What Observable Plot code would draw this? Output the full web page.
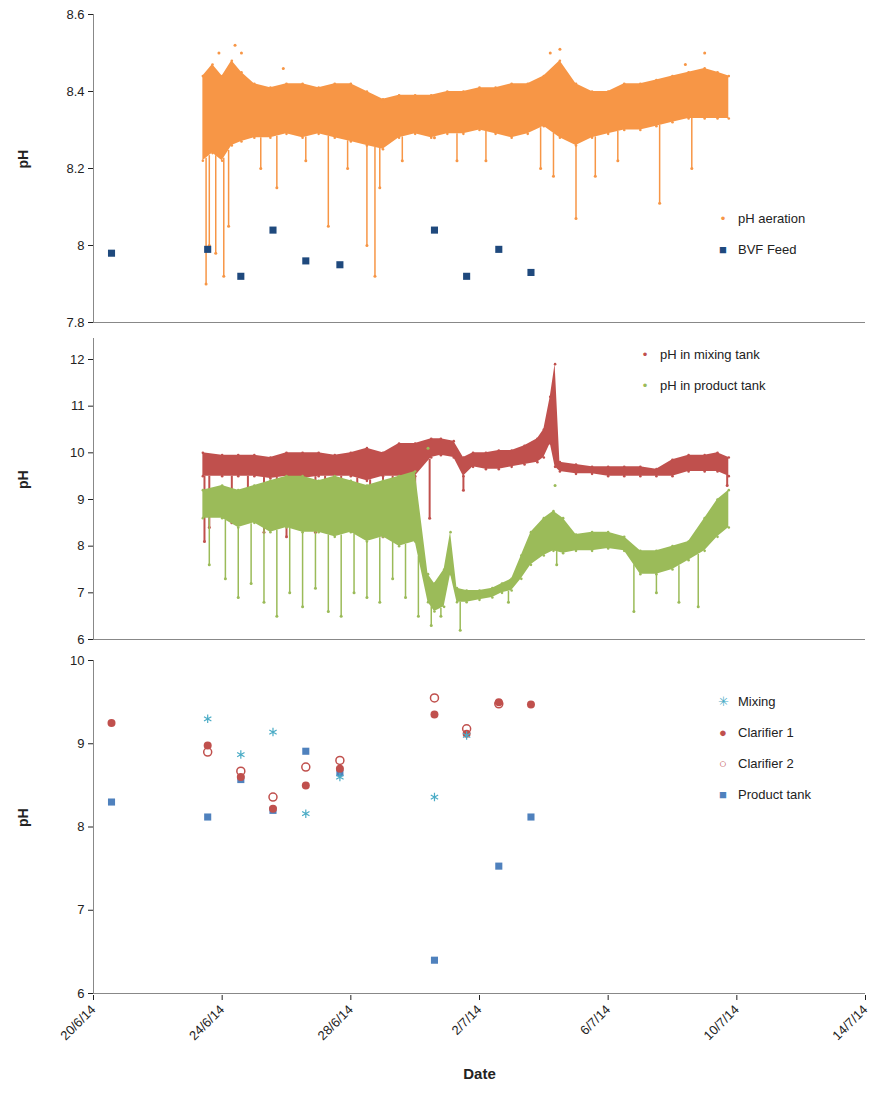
<!DOCTYPE html>
<html><head><meta charset="utf-8">
<script src="https://cdn.jsdelivr.net/npm/d3@7"></script>
<script src="https://cdn.jsdelivr.net/npm/@observablehq/plot@0.6"></script>
<style>
body{margin:0;background:#fff;font-family:Arial,"Liberation Sans",sans-serif}
#wrap{position:relative;width:877px}
.lg{position:absolute;font-size:13px;color:#222;line-height:31px}
.lg span.m{display:inline-block;width:14px;text-align:center;margin-right:8px}
</style></head><body>
<div id="wrap"></div>
<script>
// x is days after 20/6/14
const dateTicks=[0,4,8,12,16,20,24];
const dateLabels=["20/6/14","24/6/14","28/6/14","2/7/14","6/7/14","10/7/14","14/7/14"];
const sampleDays=[0.56,3.55,4.58,5.58,6.6,7.66,10.6,11.6,12.6,13.6];
const bvfFeed=[7.98,7.99,7.92,8.04,7.96,7.95,8.04,7.92,7.99,7.93];

// aeration core band
const aerT =[3.4,3.7,4.0,4.3,4.6,5.0,5.5,6.0,6.5,7.0,7.5,8.0,8.5,9.0,9.5,10.0,10.5,11.0,11.5,12.0,12.5,13.0,13.5,14.0,14.5,15.0,15.5,16.0,16.5,17.0,17.5,18.0,18.5,19.0,19.4,19.75];
const aerLo=[8.22,8.24,8.22,8.26,8.27,8.28,8.28,8.29,8.28,8.29,8.28,8.27,8.26,8.25,8.28,8.29,8.28,8.29,8.29,8.30,8.29,8.28,8.29,8.31,8.28,8.26,8.28,8.29,8.30,8.30,8.31,8.32,8.33,8.33,8.33,8.33];
const aerHi=[8.44,8.47,8.44,8.48,8.45,8.42,8.41,8.42,8.42,8.41,8.42,8.42,8.40,8.38,8.39,8.39,8.39,8.40,8.40,8.41,8.41,8.42,8.42,8.44,8.48,8.42,8.40,8.40,8.42,8.42,8.43,8.44,8.45,8.46,8.45,8.44];
const aerDipT=[3.5,3.6,3.8,4.05,4.2,5.2,5.7,6.6,7.3,7.9,8.5,8.75,8.9,9.6,10.6,11.3,12.2,13.9,14.3,15.0,15.6,16.3,17.6,18.6];
const aerDipV=[7.90,8.00,7.98,7.92,8.05,8.20,8.15,8.22,8.05,8.20,8.00,7.92,8.15,8.22,8.28,8.22,8.22,8.20,8.18,8.07,8.18,8.22,8.11,8.20];
const aerSpkT=[3.9,4.4,4.6,5.9,14.2,14.5,19.0,18.4];
const aerSpkV=[8.50,8.52,8.50,8.46,8.50,8.51,8.50,8.47];

// mixing tank band
const mixT =[3.4,4.0,4.5,5.0,5.5,6.0,6.5,7.0,7.5,8.0,8.5,9.0,9.5,10.0,10.5,10.8,11.2,11.5,11.8,12.2,12.6,13.0,13.4,13.8,14.0,14.2,14.35,14.5,15.0,15.5,16.0,16.5,17.0,17.5,18.0,18.5,19.0,19.4,19.75];
const mixLo=[9.5,9.5,9.5,9.5,9.45,9.5,9.45,9.5,9.5,9.5,9.4,9.5,9.5,9.5,9.9,9.95,9.9,9.5,9.7,9.65,9.65,9.7,9.75,9.8,9.9,10.2,9.7,9.6,9.55,9.55,9.5,9.5,9.5,9.5,9.5,9.6,9.6,9.6,9.5];
const mixHi=[10.0,9.95,9.95,9.95,9.9,10.0,10.0,10.0,9.95,10.0,10.1,10.0,10.2,10.2,10.3,10.3,10.25,9.9,10.0,10.0,10.05,10.05,10.15,10.3,10.5,11.2,11.9,9.8,9.75,9.7,9.7,9.7,9.7,9.65,9.85,9.95,9.95,10.0,9.9];
const mixDipT=[3.45,3.6,4.3,4.8,5.3,5.7,6.0,6.4,6.9,7.2,7.7,8.2,8.6,9.0,9.3,9.7,10.0,10.45,11.5,19.7];
const mixDipV=[8.1,8.4,8.5,8.6,8.3,8.7,8.2,8.4,8.3,8.5,8.4,8.3,8.4,8.2,8.5,8.3,8.3,8.6,9.2,9.3];

// product tank band
const prdT =[3.4,4.0,4.5,5.0,5.5,6.0,6.5,7.0,7.5,8.0,8.5,9.0,9.5,10.0,10.4,10.6,10.9,11.1,11.3,11.6,12.0,12.4,12.7,13.0,13.3,13.6,14.0,14.3,14.6,15.0,15.5,16.0,16.5,17.0,17.5,18.0,18.5,19.0,19.4,19.75];
const prdLo=[8.6,8.6,8.4,8.5,8.3,8.4,8.3,8.3,8.2,8.3,8.1,8.2,8.0,8.1,6.8,6.6,6.7,7.4,6.8,6.8,6.85,6.9,7.0,7.05,7.3,7.6,7.8,7.9,7.85,7.9,7.9,7.95,7.9,7.4,7.4,7.5,7.7,7.9,8.2,8.4];
const prdHi=[9.2,9.3,9.2,9.3,9.4,9.5,9.5,9.4,9.5,9.4,9.3,9.4,9.5,9.6,7.4,7.2,7.5,8.3,7.1,7.05,7.05,7.1,7.2,7.3,7.8,8.3,8.6,8.75,8.6,8.25,8.3,8.3,8.2,7.9,7.9,8.0,8.1,8.6,9.0,9.2];
const prdDipT=[3.6,4.1,4.5,4.9,5.3,5.7,6.1,6.5,6.9,7.3,7.7,8.1,8.5,8.9,9.3,9.7,10.1,10.5,10.8,11.4,12.9,14.4,16.8,17.5,18.2,18.8];
const prdDipV=[7.6,7.3,6.9,7.2,6.8,6.5,7.0,6.7,7.1,6.6,6.5,7.0,6.9,6.8,7.3,6.9,6.5,6.3,6.5,6.2,6.8,7.6,6.6,7.0,6.8,6.7];
const prdSpkT=[10.4,14.35];
const prdSpkV=[10.1,9.3];

// bottom panel
const mixingV=[null,9.3,8.87,9.14,8.16,8.6,8.36,9.1,null,null];
const clar1V=[9.25,8.98,8.6,8.22,8.5,8.7,9.35,9.12,9.5,9.47];
const clar2V=[null,8.9,8.67,8.36,8.72,8.8,9.55,9.18,9.48,null];
const prodV=[8.3,8.12,8.57,8.2,8.91,8.65,6.4,null,7.53,8.12];

const C={or:"#f79646",nv:"#1f497d",rd:"#c0504d",gr:"#9bbb59",tl:"#4bacc6",bl:"#4f81bd"};
const W=877, ML=93, MR=12;
const xs={domain:[0,24],ticks:dateTicks};
const band=(T,L,H)=>T.map((t,i)=>({t,lo:L[i],hi:H[i]}));
const pts=(T,V)=>T.map((t,i)=>({t,v:V[i]}));
const common={width:W,marginLeft:ML,marginRight:MR,style:{fontFamily:"Arial,'Liberation Sans',sans-serif",fontSize:"13px",color:"#222",overflow:"visible"}};
const axY=(ticks,fmt)=>Plot.axisY({ticks,tickFormat:fmt,tickSize:5,label:null,fontSize:13});
const yLab=()=>Plot.text(["pH"],{frameAnchor:"left",dx:-70,rotate:-90,fontWeight:"bold",fontSize:14});
const frameL=Plot.ruleX([0],{stroke:"#888"});

function cloud(T,L,H,col){
  const b=band(T,L,H);
  return [Plot.areaY(b,{x:"t",y1:"lo",y2:"hi",fill:col,curve:"linear"}),
          Plot.dot(b,{x:"t",y:"lo",r:1.3,fill:col}),Plot.dot(b,{x:"t",y:"hi",r:1.3,fill:col})];
}
function dips(T,V,base,col,w){
  const d=T.map((t,i)=>({t,v:V[i],b:base[i]}));
  return [Plot.ruleX(d,{x:"t",y1:"v",y2:"b",stroke:col,strokeWidth:w}),Plot.dot(d,{x:"t",y:"v",r:1.5,fill:col})];
}
const interp=(T,V,t)=>{for(let i=1;i<T.length;i++){if(t<=T[i]){const f=(t-T[i-1])/(T[i]-T[i-1]);return V[i-1]+f*(V[i]-V[i-1]);}}return V[V.length-1];};

const p1=Plot.plot({...common,height:330,marginTop:14,marginBottom:8,
  x:{...xs,axis:null},y:{domain:[7.8,8.6]},
  marks:[axY([7.8,8,8.2,8.4,8.6],d=>d===8?"8":d.toFixed(1)),yLab(),
    Plot.ruleY([7.8],{stroke:"#888"}),frameL,
    ...cloud(aerT,aerLo,aerHi,C.or),
    ...dips(aerDipT,aerDipV,aerDipT.map(t=>interp(aerT,aerLo,t)),C.or,1.5),
    Plot.dot(pts(aerSpkT,aerSpkV),{x:"t",y:"v",r:1.5,fill:C.or}),
    Plot.dot(pts(sampleDays,bvfFeed),{x:"t",y:"v",symbol:"square",r:4,fill:C.nv})]});

const p2=Plot.plot({...common,height:318,marginTop:8,marginBottom:9,
  x:{...xs,axis:null},y:{domain:[6,12.45]},
  marks:[axY([6,7,8,9,10,11,12],d=>String(d)),yLab(),
    Plot.ruleY([6],{stroke:"#888"}),frameL,
    ...cloud(mixT,mixLo,mixHi,C.rd),
    ...dips(mixDipT,mixDipV,mixDipT.map(t=>interp(mixT,mixLo,t)),C.rd,2),
    ...cloud(prdT,prdLo,prdHi,C.gr),
    ...dips(prdDipT,prdDipV,prdDipT.map(t=>interp(prdT,prdLo,t)),C.gr,1.5),
    Plot.dot(pts(prdSpkT,prdSpkV),{x:"t",y:"v",r:1.5,fill:C.gr})]});

const p3=Plot.plot({...common,height:448,marginTop:12,marginBottom:103,
  x:{...xs},y:{domain:[6,10]},
  marks:[axY([6,7,8,9,10],d=>String(d)),yLab(),
    Plot.axisX({ticks:dateTicks,tickFormat:(d,i)=>dateLabels[i],tickRotate:-45,tickSize:5,fontSize:13,label:null,textAnchor:"end",dx:0,dy:2}),
    Plot.text(["Date"],{frameAnchor:"bottom",dy:85,fontWeight:"bold",fontSize:15}),
    Plot.ruleY([6],{stroke:"#888"}),frameL,
    Plot.dot(pts(sampleDays,prodV).filter(d=>d.v!=null),{x:"t",y:"v",symbol:"square",r:4,fill:C.bl}),
    Plot.dot(pts(sampleDays,clar1V),{x:"t",y:"v",r:4,fill:C.rd}),
    Plot.dot(pts(sampleDays,clar2V).filter(d=>d.v!=null),{x:"t",y:"v",r:4,stroke:C.rd,fill:"none"}),
    Plot.dot(pts(sampleDays,mixingV).filter(d=>d.v!=null),{x:"t",y:"v",symbol:"asterisk",r:4,stroke:C.tl,strokeWidth:1.2})]});

const wrap=document.getElementById("wrap");
[p1,p2,p3].forEach(p=>{p.style.display="block";wrap.appendChild(p);});
function legend(top,left,items){
  const d=document.createElement("div");d.className="lg";d.style.top=top+"px";d.style.left=left+"px";
  d.innerHTML=items.map(([m,c,t])=>`<div><span class="m" style="color:${c}">${m}</span>${t}</div>`).join("");
  wrap.appendChild(d);
}
legend(203,716,[["•",C.or,"pH aeration"],["■",C.nv,"BVF Feed"]]);
legend(339,638,[["•",C.rd,"pH in mixing tank"],["•",C.gr,"pH in product tank"]]);
legend(686,716,[["✳",C.tl,"Mixing"],["●",C.rd,"Clarifier 1"],["○",C.rd,"Clarifier 2"],["■",C.bl,"Product tank"]]);
</script></body></html>
